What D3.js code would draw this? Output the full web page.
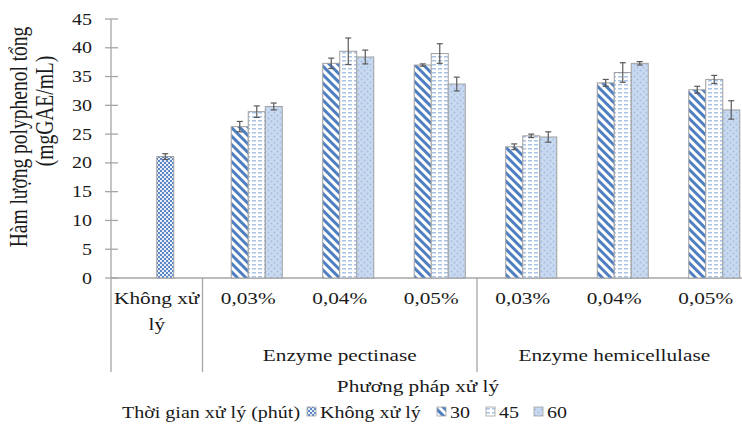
<!DOCTYPE html>
<html>
<head>
<meta charset="utf-8">
<script src="https://cdn.jsdelivr.net/npm/d3@7"></script>
<style>
  body { margin: 0; background: #fff; }
  text { font-family: "Liberation Serif", "Times New Roman", serif; fill: #1a1a1a; }
</style>
</head>
<body>
<svg id="chart"></svg>
<script>
// Polyphenol content by treatment - clustered bars w/ error bars
const categories = ["Không xử lý", "0,03%", "0,04%", "0,05%", "0,03%", "0,04%", "0,05%"];
const groups = [
  { name: "Enzyme pectinase", from: 1, to: 3 },
  { name: "Enzyme hemicellulase", from: 4, to: 6 }
];
const seriesNames = ["Không xử lý", "30", "45", "60"];

// values per category (null = no bar)
const valUntreated = [21.1, null, null, null, null, null, null];
const errUntreated = [0.5, null, null, null, null, null, null];
const val30 = [null, 26.3, 37.3, 37.0, 22.8, 33.9, 32.7];
const err30 = [null, 0.9, 0.9, 0.2, 0.5, 0.6, 0.6];
const val45 = [null, 28.9, 39.4, 39.0, 24.7, 35.7, 34.5];
const err45 = [null, 1.0, 2.3, 1.7, 0.3, 1.7, 0.7];
const val60 = [null, 29.8, 38.4, 33.7, 24.5, 37.3, 29.2];
const err60 = [null, 0.6, 1.2, 1.2, 0.9, 0.3, 1.6];

const yTicks = [0, 5, 10, 15, 20, 25, 30, 35, 40, 45];

const width = 742, height = 429;
const SX = 1.25; // the picture is stretched sideways a bit

const svg = d3.select("#chart").attr("width", width).attr("height", height);

// patterns
const defs = svg.append("defs");
const pk = defs.append("pattern").attr("id", "p-k").attr("patternUnits", "userSpaceOnUse")
  .attr("width", 4).attr("height", 4);
pk.append("rect").attr("width", 4).attr("height", 4).attr("fill", "#5b87c7");
pk.append("rect").attr("x", 0).attr("y", 0).attr("width", 2).attr("height", 2).attr("fill", "#e8eef8");
pk.append("rect").attr("x", 2).attr("y", 2).attr("width", 2).attr("height", 2).attr("fill", "#e8eef8");

const p30 = defs.append("pattern").attr("id", "p-30").attr("patternUnits", "userSpaceOnUse")
  .attr("width", 6).attr("height", 6).attr("patternTransform", "rotate(-45)");
p30.append("rect").attr("width", 6).attr("height", 6).attr("fill", "#ffffff");
p30.append("rect").attr("width", 3).attr("height", 6).attr("fill", "#4f7fc0");

const p45 = defs.append("pattern").attr("id", "p-45").attr("patternUnits", "userSpaceOnUse")
  .attr("width", 6).attr("height", 4);
p45.append("rect").attr("width", 6).attr("height", 4).attr("fill", "#ffffff");
p45.append("rect").attr("x", 0).attr("y", 0).attr("width", 4).attr("height", 1.5).attr("fill", "#a9c3e6");

const p60 = defs.append("pattern").attr("id", "p-60").attr("patternUnits", "userSpaceOnUse")
  .attr("width", 6).attr("height", 6);
p60.append("rect").attr("width", 6).attr("height", 6).attr("fill", "#c8d9f0");
p60.append("circle").attr("cx", 1.5).attr("cy", 1.5).attr("r", 1).attr("fill", "#a4bfe4");
p60.append("circle").attr("cx", 4.5).attr("cy", 4.5).attr("r", 1).attr("fill", "#a4bfe4");

const fills = ["url(#p-k)", "url(#p-30)", "url(#p-45)", "url(#p-60)"];

// scales
const x0 = d3.scaleBand().domain(d3.range(categories.length)).range([111, 751.5]).padding(0);
const x1 = d3.scaleBand().domain([0, 1, 2, 3]).range([0, x0.bandwidth()])
  .paddingInner(0).paddingOuter(0.69);
const y = d3.scaleLinear().domain([0, 45]).range([278, 19]);

// the untreated bar sits in the 3rd slot, like in the source
const slotOf = [2, 1, 2, 3];

const series = [
  { vals: valUntreated, errs: errUntreated },
  { vals: val30, errs: err30 },
  { vals: val45, errs: err45 },
  { vals: val60, errs: err60 }
];

const bars = [];
series.forEach((s, si) => {
  s.vals.forEach((v, ci) => {
    if (v != null) bars.push({ si, ci, v, e: s.errs[ci] });
  });
});

const gray = "#a6a6a6";

// axes lines
svg.append("line").attr("x1", 111).attr("x2", 111).attr("y1", y(45)).attr("y2", 372)
  .attr("stroke", gray).attr("stroke-width", 1.3);
svg.append("line").attr("x1", 111).attr("x2", 752).attr("y1", y(0)).attr("y2", y(0))
  .attr("stroke", gray).attr("stroke-width", 1.3);
[x0(1), x0(4)].forEach(xx => {
  svg.append("line").attr("x1", xx).attr("x2", xx).attr("y1", y(0)).attr("y2", 372)
    .attr("stroke", gray).attr("stroke-width", 1.3);
});

// y ticks
svg.selectAll(".ytick").data(yTicks).enter().append("line")
  .attr("x1", 105).attr("x2", 118)
  .attr("y1", d => y(d)).attr("y2", d => y(d))
  .attr("stroke", gray).attr("stroke-width", 1.3);
svg.selectAll(".ylab").data(yTicks).enter().append("text")
  .attr("transform", d => `translate(92,${y(d) + 5.5}) scale(${SX},1)`)
  .style("text-anchor", "end").style("font-size", "16px")
  .text(d => d);

// bars
svg.selectAll(".bar").data(bars).enter().append("rect")
  .attr("x", d => x0(d.ci) + x1(slotOf[d.si]))
  .attr("y", d => y(d.v))
  .attr("width", x1.bandwidth())
  .attr("height", d => y(0) - y(d.v))
  .attr("fill", d => fills[d.si])
  .attr("stroke", "#a0a0a0").attr("stroke-width", 1);

// error bars
const eb = svg.selectAll(".err").data(bars).enter().append("g")
  .attr("transform", d => `translate(${x0(d.ci) + x1(slotOf[d.si]) + x1.bandwidth() / 2},0)`);
eb.append("line").attr("x1", 0).attr("x2", 0)
  .attr("y1", d => y(d.v - d.e)).attr("y2", d => y(d.v + d.e))
  .attr("stroke", "#5a5a5a").attr("stroke-width", 1.2);
eb.append("line").attr("x1", -3).attr("x2", 3)
  .attr("y1", d => y(d.v + d.e)).attr("y2", d => y(d.v + d.e))
  .attr("stroke", "#5a5a5a").attr("stroke-width", 1.2);
eb.append("line").attr("x1", -3).attr("x2", 3)
  .attr("y1", d => y(d.v - d.e)).attr("y2", d => y(d.v - d.e))
  .attr("stroke", "#5a5a5a").attr("stroke-width", 1.2);

// category labels
function label(txt, cx, cy, size) {
  svg.append("text")
    .attr("transform", `translate(${cx},${cy}) scale(${SX},1)`)
    .style("text-anchor", "middle").style("font-size", size + "px")
    .text(txt);
}
categories.forEach((c, i) => {
  const cx = x0(i) + x0.bandwidth() / 2;
  if (i === 0) {
    label("Không xử", cx, 304, 17);
    label("lý", cx, 330, 17);
  } else {
    label(c, cx, 304, 17);
  }
});
groups.forEach(g => {
  const cx = (x0(g.from) + x0(g.to) + x0.bandwidth()) / 2;
  label(g.name, cx, 361, 17);
});

// axis titles
label("Phương pháp xử lý", 418, 392, 17);

const yt = svg.append("g").attr("transform", "translate(0,137) rotate(-90)");
yt.append("text").attr("transform", `translate(0,27) scale(1,${SX})`)
  .style("text-anchor", "middle").style("font-size", "19.5px")
  .text("Hàm lượng polyphenol tổng");
yt.append("text").attr("transform", "translate(26,53) scale(1," + SX + ")")
  .style("text-anchor", "middle").style("font-size", "19.5px")
  .text("(mgGAE/mL)");

// legend
const legY = 418;
const leg = svg.append("g");
leg.append("text").attr("transform", `translate(122,${legY}) scale(${SX},1)`)
  .style("font-size", "16px").text("Thời gian xử lý (phút)");
const legX = [307, 437, 486, 534];
seriesNames.forEach((n, i) => {
  leg.append("rect").attr("x", legX[i]).attr("y", legY - 11).attr("width", 9).attr("height", 9)
    .attr("fill", fills[i]).attr("stroke", "#a0a0a0").attr("stroke-width", 0.8);
  leg.append("text").attr("transform", `translate(${legX[i] + 13},${legY}) scale(${SX},1)`)
    .style("font-size", "16px").text(n);
});
</script>
</body>
</html>
